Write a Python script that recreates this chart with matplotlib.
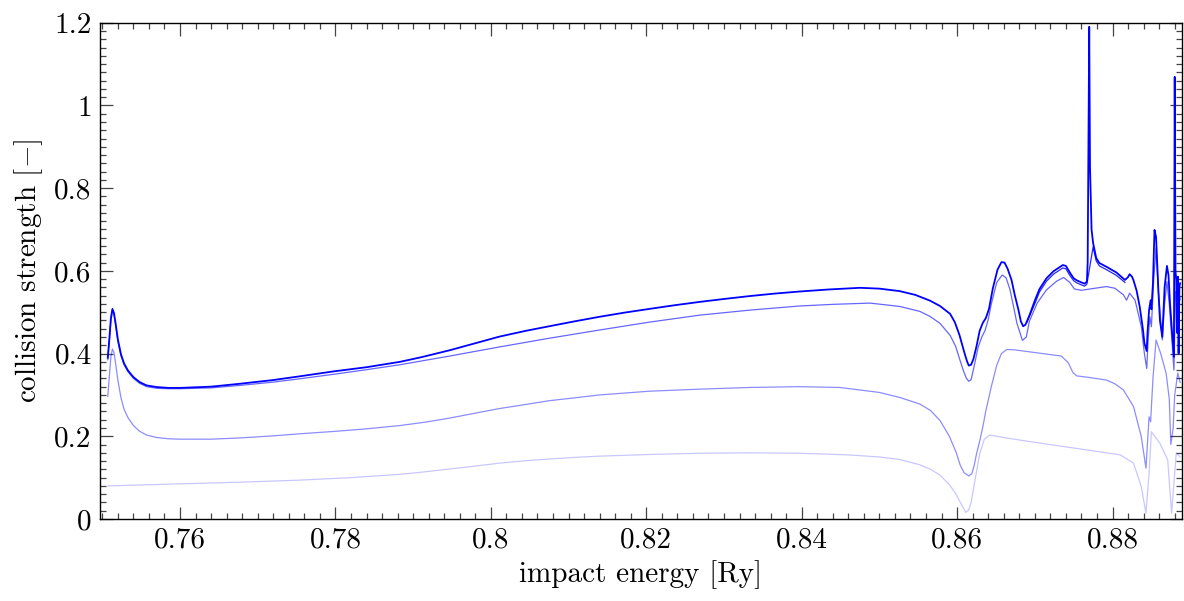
import matplotlib
matplotlib.use("Agg")
import matplotlib.pyplot as plt
from matplotlib.ticker import MultipleLocator, FuncFormatter

# top curve (darkest)
x_a = [0.7507, 0.7509, 0.7511, 0.7513, 0.7515, 0.7517, 0.7520, 0.7524, 0.7528, 0.7533,
       0.7540, 0.7548, 0.7557, 0.7570, 0.7585, 0.7600, 0.7640, 0.7677, 0.7720, 0.7754,
       0.7798, 0.7840, 0.7883, 0.7910, 0.7947, 0.7980, 0.8011, 0.8045, 0.8075, 0.8108,
       0.8140, 0.8172, 0.8204, 0.8237, 0.8269, 0.8300, 0.8333, 0.8365, 0.8397, 0.8435,
       0.8475, 0.8500, 0.8526, 0.8546, 0.8565, 0.8578, 0.8591, 0.8597, 0.8603, 0.8607,
       0.8610, 0.8613, 0.8615, 0.8618, 0.8621, 0.8625, 0.8629, 0.8633, 0.8637, 0.8641,
       0.8646, 0.8652, 0.8657, 0.8661, 0.8665, 0.8670, 0.8674, 0.8679, 0.8682, 0.8685,
       0.8688, 0.8693, 0.8700, 0.8706, 0.8715, 0.8724, 0.8736, 0.8740, 0.8745, 0.8750,
       0.8754, 0.8760, 0.8764, 0.8767, 0.8768, 0.8770, 0.8771, 0.8773, 0.8775, 0.8779,
       0.8783, 0.8792, 0.8805, 0.8816, 0.8820, 0.8822, 0.8825, 0.8827, 0.8831, 0.8835,
       0.8839, 0.8841, 0.8844, 0.8845, 0.8847, 0.8849, 0.8850, 0.8852, 0.8854, 0.8856,
       0.8859, 0.8861, 0.8864, 0.8867, 0.8870, 0.8872, 0.8874, 0.8877, 0.8879, 0.8880,
       0.8881, 0.8882, 0.8883, 0.8884, 0.8885, 0.8886, 0.8887]
y_a = [0.390, 0.435, 0.485, 0.508, 0.498, 0.474, 0.434, 0.398, 0.376, 0.359,
       0.343, 0.331, 0.323, 0.319, 0.317, 0.317, 0.320, 0.327, 0.336, 0.345,
       0.357, 0.367, 0.380, 0.391, 0.408, 0.425, 0.441, 0.455, 0.466, 0.478,
       0.489, 0.499, 0.508, 0.517, 0.525, 0.532, 0.539, 0.545, 0.550, 0.555,
       0.559, 0.557, 0.551, 0.542, 0.528, 0.515, 0.496, 0.476, 0.445, 0.418,
       0.398, 0.380, 0.371, 0.373, 0.387, 0.418, 0.455, 0.474, 0.486, 0.508,
       0.558, 0.603, 0.621, 0.620, 0.605, 0.578, 0.543, 0.505, 0.478, 0.466,
       0.470, 0.492, 0.528, 0.556, 0.582, 0.599, 0.614, 0.612, 0.596, 0.582,
       0.577, 0.572, 0.569, 0.574, 0.620, 1.190, 0.850, 0.700, 0.667, 0.631,
       0.619, 0.610, 0.596, 0.578, 0.585, 0.592, 0.586, 0.577, 0.552, 0.513,
       0.460, 0.425, 0.406, 0.450, 0.505, 0.529, 0.507, 0.570, 0.699, 0.682,
       0.552, 0.480, 0.440, 0.560, 0.612, 0.590, 0.520, 0.440, 0.392, 1.069,
       0.600, 0.578, 0.450, 0.586, 0.400, 0.562, 0.570]

# companion of the top curve, visible only where they split
x_a2 = [0.8690, 0.8700, 0.8706, 0.8715, 0.8724, 0.8736, 0.8740, 0.8745, 0.8750, 0.8754,
        0.8760, 0.8764, 0.8767, 0.8775, 0.8779, 0.8783, 0.8792, 0.8805, 0.8816]
y_a2 = [0.476, 0.521, 0.549, 0.575, 0.592, 0.607, 0.605, 0.589, 0.576, 0.571,
        0.566, 0.563, 0.568, 0.658, 0.624, 0.612, 0.603, 0.589, 0.572]

x_b = [0.7507, 0.7509, 0.7511, 0.7513, 0.7515, 0.7517, 0.7520, 0.7524, 0.7528, 0.7533,
       0.7540, 0.7548, 0.7557, 0.7570, 0.7585, 0.7600, 0.7640, 0.7677, 0.7720, 0.7754,
       0.7798, 0.7840, 0.7883, 0.7947, 0.8011, 0.8075, 0.8140, 0.8204, 0.8269, 0.8333,
       0.8397, 0.8440, 0.8488, 0.8526, 0.8552, 0.8565, 0.8578, 0.8591, 0.8598, 0.8603,
       0.8608, 0.8612, 0.8615, 0.8618, 0.8622, 0.8627, 0.8632, 0.8636, 0.8640, 0.8644,
       0.8651, 0.8658, 0.8663, 0.8668, 0.8673, 0.8677, 0.8684, 0.8689, 0.8693, 0.8703,
       0.8715, 0.8728, 0.8737, 0.8745, 0.8751, 0.8760, 0.8767, 0.8792, 0.8803, 0.8814,
       0.8818, 0.8822, 0.8829, 0.8837, 0.8841, 0.8844, 0.8846, 0.8848, 0.8850, 0.8853,
       0.8856, 0.8859, 0.8864, 0.8867, 0.8870, 0.8873, 0.8877, 0.8879, 0.8881, 0.8884,
       0.8886, 0.8887]
y_b = [0.385, 0.430, 0.480, 0.504, 0.494, 0.470, 0.430, 0.395, 0.373, 0.356,
       0.340, 0.328, 0.320, 0.316, 0.315, 0.315, 0.317, 0.323, 0.331, 0.339,
       0.350, 0.361, 0.373, 0.394, 0.416, 0.437, 0.457, 0.476, 0.493, 0.505,
       0.515, 0.519, 0.522, 0.514, 0.502, 0.490, 0.473, 0.444, 0.418, 0.388,
       0.359, 0.340, 0.333, 0.337, 0.370, 0.415, 0.441, 0.456, 0.482, 0.520,
       0.572, 0.590, 0.583, 0.555, 0.510, 0.473, 0.432, 0.440, 0.478, 0.522,
       0.554, 0.575, 0.584, 0.572, 0.556, 0.553, 0.555, 0.562, 0.558, 0.542,
       0.529, 0.546, 0.529, 0.465, 0.400, 0.364, 0.440, 0.489, 0.465, 0.580,
       0.655, 0.550, 0.433, 0.520, 0.574, 0.520, 0.417, 0.360, 0.550, 0.500,
       0.540, 0.530]

x_c = [0.7507, 0.7509, 0.7511, 0.7513, 0.7515, 0.7517, 0.7520, 0.7524, 0.7528, 0.7533,
       0.7540, 0.7548, 0.7557, 0.7570, 0.7585, 0.7600, 0.7640, 0.7677, 0.7720, 0.7754,
       0.7800, 0.7840, 0.7883, 0.7915, 0.7947, 0.7980, 0.8011, 0.8045, 0.8075, 0.8108,
       0.8140, 0.8204, 0.8269, 0.8333, 0.8397, 0.8449, 0.8500, 0.8526, 0.8552, 0.8566,
       0.8578, 0.8590, 0.8599, 0.8604, 0.8609, 0.8615, 0.8619, 0.8622, 0.8625, 0.8629,
       0.8633, 0.8637, 0.8644, 0.8651, 0.8657, 0.8664, 0.8674, 0.8706, 0.8734, 0.8743,
       0.8749, 0.8754, 0.8767, 0.8792, 0.8803, 0.8814, 0.8827, 0.8837, 0.8843, 0.8847,
       0.8849, 0.8852, 0.8856, 0.8862, 0.8869, 0.8873, 0.8875, 0.8878, 0.8880, 0.8884,
       0.8887]
y_c = [0.296, 0.345, 0.392, 0.411, 0.402, 0.378, 0.336, 0.293, 0.265, 0.245,
       0.226, 0.212, 0.203, 0.197, 0.194, 0.193, 0.193, 0.196, 0.201, 0.206,
       0.212, 0.218, 0.226, 0.234, 0.244, 0.256, 0.267, 0.277, 0.286, 0.293,
       0.300, 0.309, 0.314, 0.318, 0.320, 0.318, 0.306, 0.294, 0.278, 0.262,
       0.238, 0.200, 0.160, 0.130, 0.112, 0.104, 0.110, 0.130, 0.158, 0.188,
       0.222, 0.262, 0.320, 0.372, 0.400, 0.410, 0.409, 0.401, 0.394, 0.378,
       0.354, 0.346, 0.343, 0.336, 0.327, 0.312, 0.272, 0.199, 0.123, 0.247,
       0.235, 0.340, 0.433, 0.400, 0.352, 0.290, 0.180, 0.220, 0.300, 0.353,
       0.330]

x_d = [0.7507, 0.7600, 0.7677, 0.7754, 0.7820, 0.7883, 0.7915, 0.7947, 0.7980, 0.8011,
       0.8045, 0.8075, 0.8108, 0.8140, 0.8204, 0.8269, 0.8333, 0.8397, 0.8460, 0.8500,
       0.8526, 0.8552, 0.8566, 0.8578, 0.8590, 0.8598, 0.8605, 0.8611, 0.8615, 0.8618,
       0.8621, 0.8625, 0.8629, 0.8635, 0.8642, 0.8660, 0.8680, 0.8723, 0.8767, 0.8810,
       0.8827, 0.8837, 0.8843, 0.8847, 0.8850, 0.8861, 0.8871, 0.8876, 0.8882, 0.8887]
y_d = [0.080, 0.085, 0.089, 0.094, 0.100, 0.108, 0.114, 0.121, 0.128, 0.135,
       0.141, 0.145, 0.149, 0.152, 0.156, 0.159, 0.160, 0.159, 0.155, 0.150,
       0.144, 0.131, 0.120, 0.106, 0.083, 0.062, 0.037, 0.016, 0.022, 0.040,
       0.072, 0.115, 0.157, 0.193, 0.203, 0.197, 0.191, 0.179, 0.167, 0.155,
       0.135, 0.078, 0.014, 0.111, 0.211, 0.183, 0.143, 0.014, 0.160, 0.150]

plt.rcParams.update({
    "font.family": ["cmr10", "DejaVu Serif"],
    "mathtext.fontset": "cm",
    "axes.formatter.use_mathtext": True,
    "font.size": 21,
})

fig = plt.figure(figsize=(11.84, 6.01), dpi=100)
ax = fig.add_axes([100 / 1184, 82 / 601, 1081.7 / 1184, 496.3 / 601])

ax.plot(x_d, y_d, color="blue", alpha=0.22, lw=0.9)
ax.plot(x_c, y_c, color="blue", alpha=0.45, lw=0.9)
ax.plot(x_b, y_b, color="blue", alpha=0.6, lw=0.9)
ax.plot(x_a2, y_a2, color="blue", alpha=0.85, lw=0.9)
ax.plot(x_a, y_a, color="blue", lw=1.3)

ax.set_xlim(0.7497, 0.8889)
ax.set_ylim(0, 1.2)
ax.xaxis.set_major_locator(MultipleLocator(0.02))
ax.xaxis.set_minor_locator(MultipleLocator(0.002))
ax.yaxis.set_major_locator(MultipleLocator(0.2))
ax.yaxis.set_minor_locator(MultipleLocator(0.02))
fmt = FuncFormatter(lambda v, p: "%g" % round(v, 4))
ax.xaxis.set_major_formatter(fmt)
ax.yaxis.set_major_formatter(fmt)
ax.tick_params(which="both", direction="in", top=True, right=True, color="#444", width=0.9)
ax.tick_params(which="major", length=9, pad=6)
ax.tick_params(which="minor", length=4.5)
for s in ax.spines.values():
    s.set_linewidth(1.0)

ax.set_xlabel("impact energy [Ry]", labelpad=5)
ax.set_ylabel(r"collision strength [$-$]", labelpad=7)

fig.savefig("out.png", dpi=100)
